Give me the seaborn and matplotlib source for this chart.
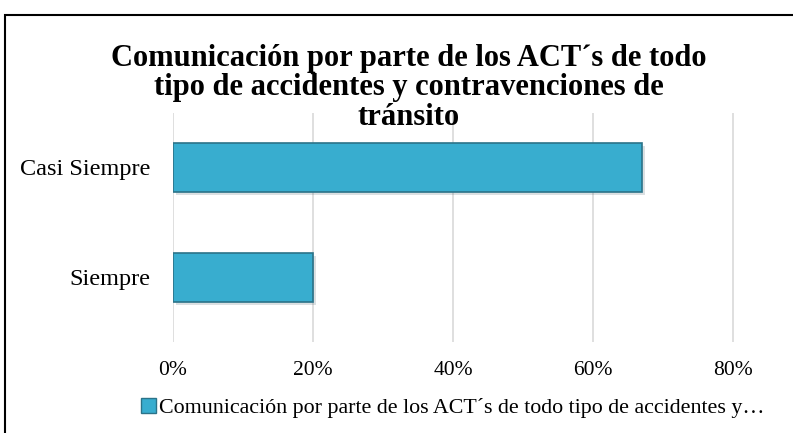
import matplotlib
matplotlib.use("Agg")
import matplotlib.pyplot as plt
import matplotlib.patheffects as pe
from matplotlib.patches import Rectangle
from matplotlib.ticker import PercentFormatter
import pandas as pd
import seaborn as sns

# Data
categories = ["Casi Siempre", "Siempre"]
values = [0.67, 0.20]
legend_label = "Comunicación por parte de los ACT´s de todo tipo de accidentes y…"
title = "Comunicación por parte de los ACT´s de todo\ntipo de accidentes y contravenciones de\ntránsito"
x_ticks = [0, 0.2, 0.4, 0.6, 0.8]

df = pd.DataFrame({"categoria": categories, "valor": values})

sns.set_style("white")
plt.rcParams["font.family"] = ["Liberation Serif", "DejaVu Serif"]
plt.rcParams["text.color"] = "black"
plt.rcParams["xtick.color"] = "black"
plt.rcParams["ytick.color"] = "black"

fig = plt.figure(figsize=(7.93, 4.33), dpi=100)
ax = fig.add_axes([173 / 793, 1 - 342 / 433, 1 - 173 / 793, 229 / 433])

sns.barplot(data=df, x="valor", y="categoria", orient="h", ax=ax,
            color="#38adcf", edgecolor="#2b7389", linewidth=1.2, width=0.445,
            saturation=1)
for bar in ax.patches:
    bar.set_path_effects([pe.SimplePatchShadow(offset=(2, -2), alpha=0.15),
                          pe.Normal()])

ax.set_ylim(1.587, -0.495)
ax.set_xlim(0, (793 - 173) / 700)
ax.set_xticks(x_ticks)
ax.xaxis.set_major_formatter(PercentFormatter(1.0, decimals=0))
ax.grid(axis="x", color="#d9d9d9", linewidth=1.2)
ax.set_axisbelow(True)
for s in ax.spines.values():
    s.set_visible(False)
ax.set_xlabel("")
ax.set_ylabel("")
ax.tick_params(axis="x", length=0, labelsize=15.5, pad=14)
ax.tick_params(axis="y", length=0, labelsize=17.5, pad=16)

fig.text(409 / 793, 1 - 88 / 433, title, ha="center", va="center",
         fontsize=22, fontweight="bold", linespacing=1.02)

handle = Rectangle((0, 0), 1, 1, facecolor="#38adcf", edgecolor="#2b7389")
fig.legend([handle], [legend_label], loc="center", bbox_to_anchor=(453 / 793, 1 - 408 / 433),
           frameon=False, fontsize=15.8, handlelength=0.65, handleheight=0.65,
           handletextpad=0.15)

# outer chart frame (cropped at right and bottom)
fig.patches.append(Rectangle((5 / 793, -0.1), 1.2, 1 - 15 / 433 + 0.1,
                             transform=fig.transFigure, fill=False,
                             edgecolor="black", linewidth=1.5))

fig.savefig("out.png", dpi=100)
